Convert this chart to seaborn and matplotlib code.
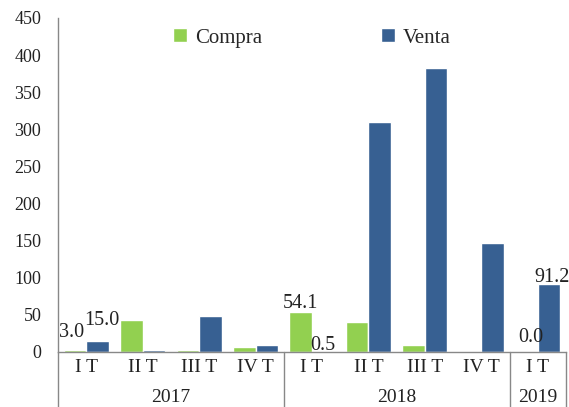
import matplotlib
matplotlib.use("Agg")
import matplotlib.pyplot as plt
import matplotlib.transforms as mtransforms
import seaborn as sns
import pandas as pd

quarters = ["I T", "II T", "III T", "IV T", "I T", "II T", "III T", "IV T", "I T"]
years = ["2017", "2018", "2019"]
year_spans = [(0, 3), (4, 7), (8, 8)]
compra = [3.0, 43.0, 2.5, 7.0, 54.1, 40.5, 9.0, 0.0, 0.0]
venta = [15.0, 2.5, 49.0, 9.0, 0.5, 310.0, 382.0, 146.5, 91.2]
labeled = [0, 4, 8]
series = ["Compra", "Venta"]
colors = ["#92D050", "#376092"]

# label offsets (pixels: dx, dy above bar top) per series, per labeled category
label_offsets = {
    0: {0: (-3, 13), 4: (0, 4), 8: (4, 10)},
    1: {0: (4, 16), 4: (0, 2), 8: (3, 2)},
}

rows = []
for i in range(len(quarters)):
    rows.append({"pos": i, "serie": "Compra", "valor": compra[i]})
    rows.append({"pos": i, "serie": "Venta", "valor": venta[i]})
df = pd.DataFrame(rows)

sns.set_theme(style="white")
plt.rcParams["font.family"] = ["Liberation Serif", "DejaVu Serif"]

fig = plt.figure(figsize=(5.69, 4.07), dpi=100)
ax = fig.add_axes([58 / 569, 55 / 407, 508 / 569, 334 / 407])

sns.barplot(data=df, x="pos", y="valor", hue="serie", palette=colors,
            hue_order=series, width=0.8, saturation=1, ax=ax, legend=True)

ax.set_ylim(0, 450)
ax.set_xlim(-0.5, len(quarters) - 0.5)
ax.set_yticks(range(0, 451, 50))
ax.set_yticklabels([str(v) for v in range(0, 451, 50)], fontsize=13, color="#222222")
ax.set_xticks(range(len(quarters)))
ax.set_xticklabels(quarters, fontsize=14, color="#222222")
ax.tick_params(axis="both", length=0)
ax.tick_params(axis="x", pad=5)
ax.tick_params(axis="y", pad=12)
ax.set_xlabel("")
ax.set_ylabel("")

for side in ["top", "right"]:
    ax.spines[side].set_visible(False)
for side in ["left", "bottom"]:
    ax.spines[side].set_color("#888888")
    ax.spines[side].set_linewidth(1.0)

# data labels
px = 72 / 100
for k, cont in enumerate(ax.containers):
    vals = compra if k == 0 else venta
    for i, bar in enumerate(cont.patches):
        if i not in labeled:
            continue
        dx, dy = label_offsets[k][i]
        ax.annotate(f"{vals[i]:.1f}",
                    xy=(bar.get_x() + bar.get_width() / 2, bar.get_height()),
                    xytext=(dx * px, dy * px), textcoords="offset points",
                    ha="center", va="baseline", fontsize=14.5, color="#222222",
                    annotation_clip=False)

# separators and year labels
trans = mtransforms.blended_transform_factory(ax.transData, ax.transAxes)
for x in [-0.5, 3.5, 7.5, 8.5]:
    ax.plot([x, x], [0, -0.165], transform=trans, color="#888888", lw=1.0, clip_on=False)
for yr, (a, b) in zip(years, year_spans):
    ax.text((a + b) / 2, -0.135, yr, transform=trans, ha="center", va="center",
            fontsize=14, color="#222222")

handles, labels = ax.get_legend_handles_labels()
ax.legend(handles, labels, loc="center", bbox_to_anchor=(0.5, 0.94), ncol=2,
          frameon=False, fontsize=15, handlelength=0.65, handleheight=0.65,
          columnspacing=5.7, handletextpad=0.4)

fig.savefig("out.png", dpi=100)
